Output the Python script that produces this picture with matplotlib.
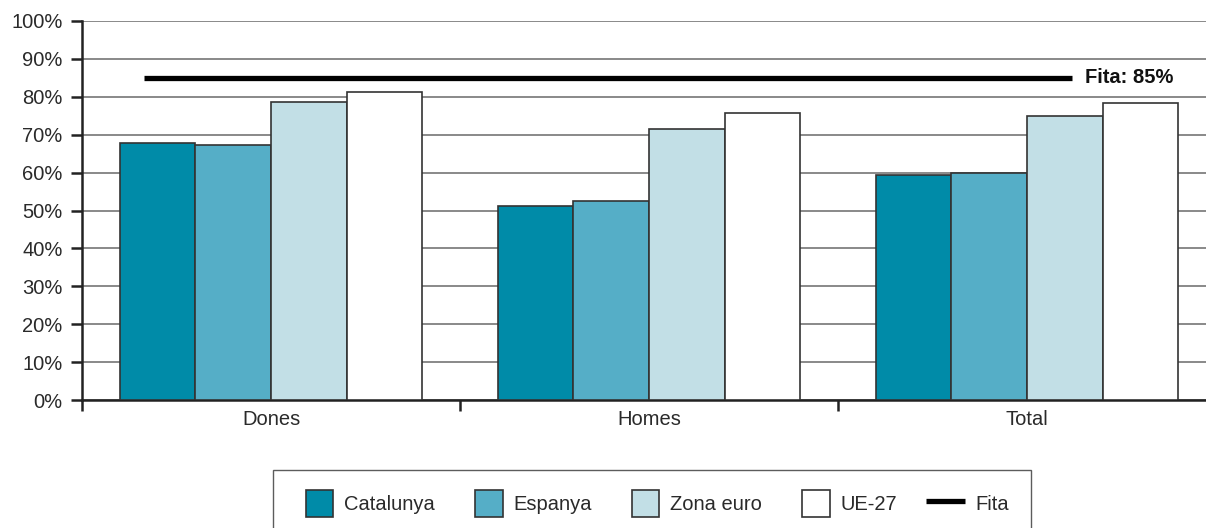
import matplotlib
matplotlib.use("Agg")
import matplotlib.pyplot as plt
import numpy as np
from matplotlib.patches import Rectangle
from matplotlib.lines import Line2D
from matplotlib.legend_handler import HandlerPatch

plt.rcParams['font.family'] = ['Liberation Sans', 'DejaVu Sans']

categories = ["Dones", "Homes", "Total"]
series_names = ["Catalunya", "Espanya", "Zona euro", "UE-27"]
catalunya = [67.7, 51.3, 59.3]
espanya = [67.4, 52.6, 60.0]
zona_euro = [78.6, 71.5, 74.9]
ue27 = [81.3, 75.6, 78.4]
fita = 85
yticks = [0, 10, 20, 30, 40, 50, 60, 70, 80, 90, 100]

colors = ["#008BA8", "#55AEC7", "#C2DFE6", "#FFFFFF"]
edge = "#333333"
FS = 14.5
TXT = "#2a2a2a"

W, H = 1206, 528
fig = plt.figure(figsize=(W / 100, H / 100), dpi=100)
ax_l, ax_r, ax_b, ax_t = 82, 1216, 400, 21
ax = fig.add_axes([ax_l / W, 1 - ax_b / H, (ax_r - ax_l) / W, (ax_b - ax_t) / H])

x = np.arange(len(categories))
bw = 0.2
all_series = [catalunya, espanya, zona_euro, ue27]
for i, (vals, c, name) in enumerate(zip(all_series, colors, series_names)):
    ax.bar(x + (i - 1.5) * bw, vals, width=bw, color=c, edgecolor=edge,
           linewidth=1.2, zorder=3)

ax.plot([-0.336, 2.119], [fita, fita], color="black", lw=3.8, zorder=4,
        solid_capstyle="butt")
ax.text(2.153, fita, "Fita: 85%", fontsize=14.5, fontweight="bold",
        va="center", ha="left", color="#111111")

ax.set_xlim(-0.5, 2.5)
ax.set_ylim(0, 100)
ax.set_yticks(yticks)
ax.set_yticklabels([f"{v}%" for v in yticks], fontsize=FS, color=TXT)
ax.yaxis.grid(True, color="#808080", lw=1.3, zorder=0)
ax.set_axisbelow(True)

ax.set_xticks([-0.5, 0.5, 1.5, 2.5])
ax.set_xticklabels([])
ax.set_xticks(x, minor=True)
ax.set_xticklabels(categories, minor=True, fontsize=FS, color=TXT)
ax.tick_params(axis="x", which="major", length=8, width=1.8, direction="out", color="#222222")
ax.tick_params(axis="x", which="minor", length=0, pad=7)
ax.tick_params(axis="y", length=8, width=1.8, direction="out", color="#222222", pad=6)

for s in ["top", "right"]:
    ax.spines[s].set_visible(False)
for s in ["left", "bottom"]:
    ax.spines[s].set_linewidth(1.8)
    ax.spines[s].set_color("#222222")


class SquareHandler(HandlerPatch):
    def create_artists(self, legend, orig_handle, xdescent, ydescent, width, height, fontsize, trans):
        side = fontsize * 1.35
        p = Rectangle((width - side - xdescent, -ydescent + (height - side) / 2), side, side,
                      facecolor=orig_handle.get_facecolor(), edgecolor=edge, lw=1.2,
                      transform=trans)
        return [p]


handles = [Rectangle((0, 0), 1, 1, facecolor=c, edgecolor=edge) for c in colors]
handles.append(Line2D([], [], color="black", lw=3.8, solid_capstyle="butt"))
labels = series_names + ["Fita"]
sq = SquareHandler()
hmap = {h: sq for h in handles[:4]}
leg = fig.legend(handles, labels, handler_map=hmap, loc="upper left",
                 bbox_to_anchor=(273 / W, 1 - 470 / H), ncol=5, fontsize=FS,
                 frameon=True, fancybox=False, edgecolor="#333333",
                 handlelength=1.9, handleheight=1.3, handletextpad=0.55,
                 columnspacing=1.44, borderpad=1.1, borderaxespad=0)
leg.get_frame().set_linewidth(1.0)
for t in leg.get_texts():
    t.set_color(TXT)

fig.savefig("out.png", dpi=100)
